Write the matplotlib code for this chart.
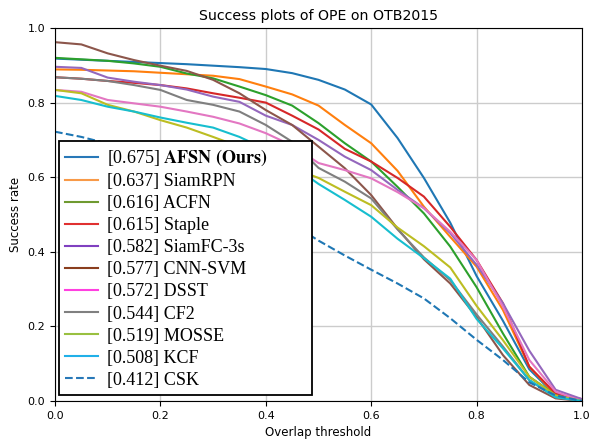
import numpy as np
import matplotlib
matplotlib.use("Agg")
import matplotlib.pyplot as plt
from matplotlib.lines import Line2D

# overlap thresholds (OTB protocol, step 0.05)
thresholds = np.arange(0, 21) * 0.05

afsn = [0.918, 0.915, 0.912, 0.909, 0.906, 0.903, 0.899, 0.895, 0.890, 0.879, 0.861,
        0.835, 0.795, 0.705, 0.598, 0.478, 0.335, 0.215, 0.085, 0.015, 0.000]
siamrpn = [0.889, 0.888, 0.886, 0.884, 0.880, 0.876, 0.872, 0.863, 0.843, 0.822, 0.792,
           0.740, 0.691, 0.617, 0.521, 0.440, 0.360, 0.244, 0.092, 0.016, 0.000]
acfn = [0.920, 0.916, 0.912, 0.905, 0.896, 0.878, 0.865, 0.843, 0.820, 0.792, 0.745,
        0.691, 0.642, 0.574, 0.503, 0.414, 0.305, 0.181, 0.065, 0.016, 0.000]
staple = [0.868, 0.864, 0.858, 0.853, 0.847, 0.838, 0.825, 0.813, 0.800, 0.765, 0.728,
          0.676, 0.642, 0.598, 0.548, 0.467, 0.378, 0.262, 0.092, 0.020, 0.005]
siamfc = [0.896, 0.893, 0.867, 0.856, 0.847, 0.835, 0.816, 0.802, 0.765, 0.740, 0.700,
          0.655, 0.619, 0.566, 0.517, 0.450, 0.365, 0.262, 0.135, 0.030, 0.005]
cnnsvm = [0.962, 0.956, 0.932, 0.914, 0.899, 0.885, 0.861, 0.825, 0.780, 0.740, 0.682,
          0.624, 0.552, 0.462, 0.380, 0.315, 0.225, 0.123, 0.043, 0.007, 0.000]
dsst = [0.834, 0.829, 0.807, 0.798, 0.789, 0.776, 0.762, 0.744, 0.718, 0.685, 0.638,
        0.619, 0.597, 0.560, 0.517, 0.454, 0.378, 0.253, 0.110, 0.025, 0.000]
cf2 = [0.868, 0.864, 0.858, 0.847, 0.834, 0.807, 0.794, 0.776, 0.740, 0.695, 0.625,
       0.588, 0.543, 0.460, 0.385, 0.324, 0.232, 0.146, 0.056, 0.010, 0.000]
mosse = [0.834, 0.825, 0.794, 0.776, 0.753, 0.733, 0.708, 0.682, 0.655, 0.625, 0.598,
         0.561, 0.525, 0.465, 0.415, 0.358, 0.255, 0.163, 0.065, 0.015, 0.000]
kcf = [0.818, 0.807, 0.789, 0.776, 0.760, 0.746, 0.733, 0.708, 0.675, 0.632, 0.582,
       0.539, 0.494, 0.435, 0.383, 0.328, 0.220, 0.141, 0.056, 0.010, 0.000]
csk = [0.722, 0.708, 0.690, 0.670, 0.645, 0.620, 0.590, 0.555, 0.515, 0.475, 0.430,
       0.390, 0.352, 0.315, 0.275, 0.222, 0.164, 0.110, 0.050, 0.015, 0.000]

trackers = ["AFSN (Ours)", "SiamRPN", "ACFN", "Staple", "SiamFC-3s", "CNN-SVM",
            "DSST", "CF2", "MOSSE", "KCF", "CSK"]
auc = [0.675, 0.637, 0.616, 0.615, 0.582, 0.577, 0.572, 0.544, 0.519, 0.508, 0.412]
curves = [afsn, siamrpn, acfn, staple, siamfc, cnnsvm, dsst, cf2, mosse, kcf, csk]

line_colors = ["#1f77b4", "#ff7f0e", "#2ca02c", "#d62728", "#9467bd", "#8c564b",
               "#e377c2", "#7f7f7f", "#bcbd22", "#17becf", "#1f77b4"]
# the legend swatches in the figure are slightly different shades
legend_colors = ["#2878b8", "#f89a48", "#6f9a30", "#e03030", "#8040c0", "#8a3e1e",
                 "#ff40e0", "#808080", "#99c040", "#20b0e8", "#2878b8"]
styles = ["-"] * 10 + ["--"]

plt.rcParams["mathtext.fontset"] = "stix"

fig = plt.figure(figsize=(5.92, 4.40), dpi=100)
ax = fig.add_axes([55 / 592, 1 - 401 / 440, 527 / 592, 373 / 440])

for y, c, ls in zip(curves, line_colors, styles):
    ax.plot(thresholds, y, color=c, linestyle=ls, linewidth=1.5)

ax.set_xlim(0, 1)
ax.set_ylim(0, 1)
ax.set_xticks([0, 0.2, 0.4, 0.6, 0.8, 1.0])
ax.set_yticks([0, 0.2, 0.4, 0.6, 0.8, 1.0])
ax.tick_params(labelsize=8)
ax.grid(True, color="#cccccc", linewidth=1)
ax.set_axisbelow(True)
ax.set_xlabel("Overlap threshold", fontsize=8.5)
ax.set_ylabel("Success rate", fontsize=8.5)
ax.set_title("Success plots of OPE on OTB2015", fontsize=10.2)

handles = [Line2D([], [], color=c, linestyle=ls, linewidth=1.5)
           for c, ls in zip(legend_colors, styles)]
labels = []
for name, score in zip(trackers, auc):
    if name == "AFSN (Ours)":
        labels.append("[%.3f] $\\mathbf{AFSN\\ (Ours)}$" % score)
    else:
        labels.append("[%.3f] %s" % (score, name))

leg = ax.legend(handles, labels, loc="lower left",
                bbox_to_anchor=(0.0076, 0.016, 0.48, 0.1), mode="expand",
                borderaxespad=0, fancybox=False, framealpha=1, edgecolor="black",
                prop={"family": "Liberation Serif", "size": 13},
                labelspacing=0.28, handlelength=1.8, handletextpad=0.5,
                borderpad=0.35)
leg.get_frame().set_linewidth(1.3)

plt.savefig("out.png", dpi=100)
